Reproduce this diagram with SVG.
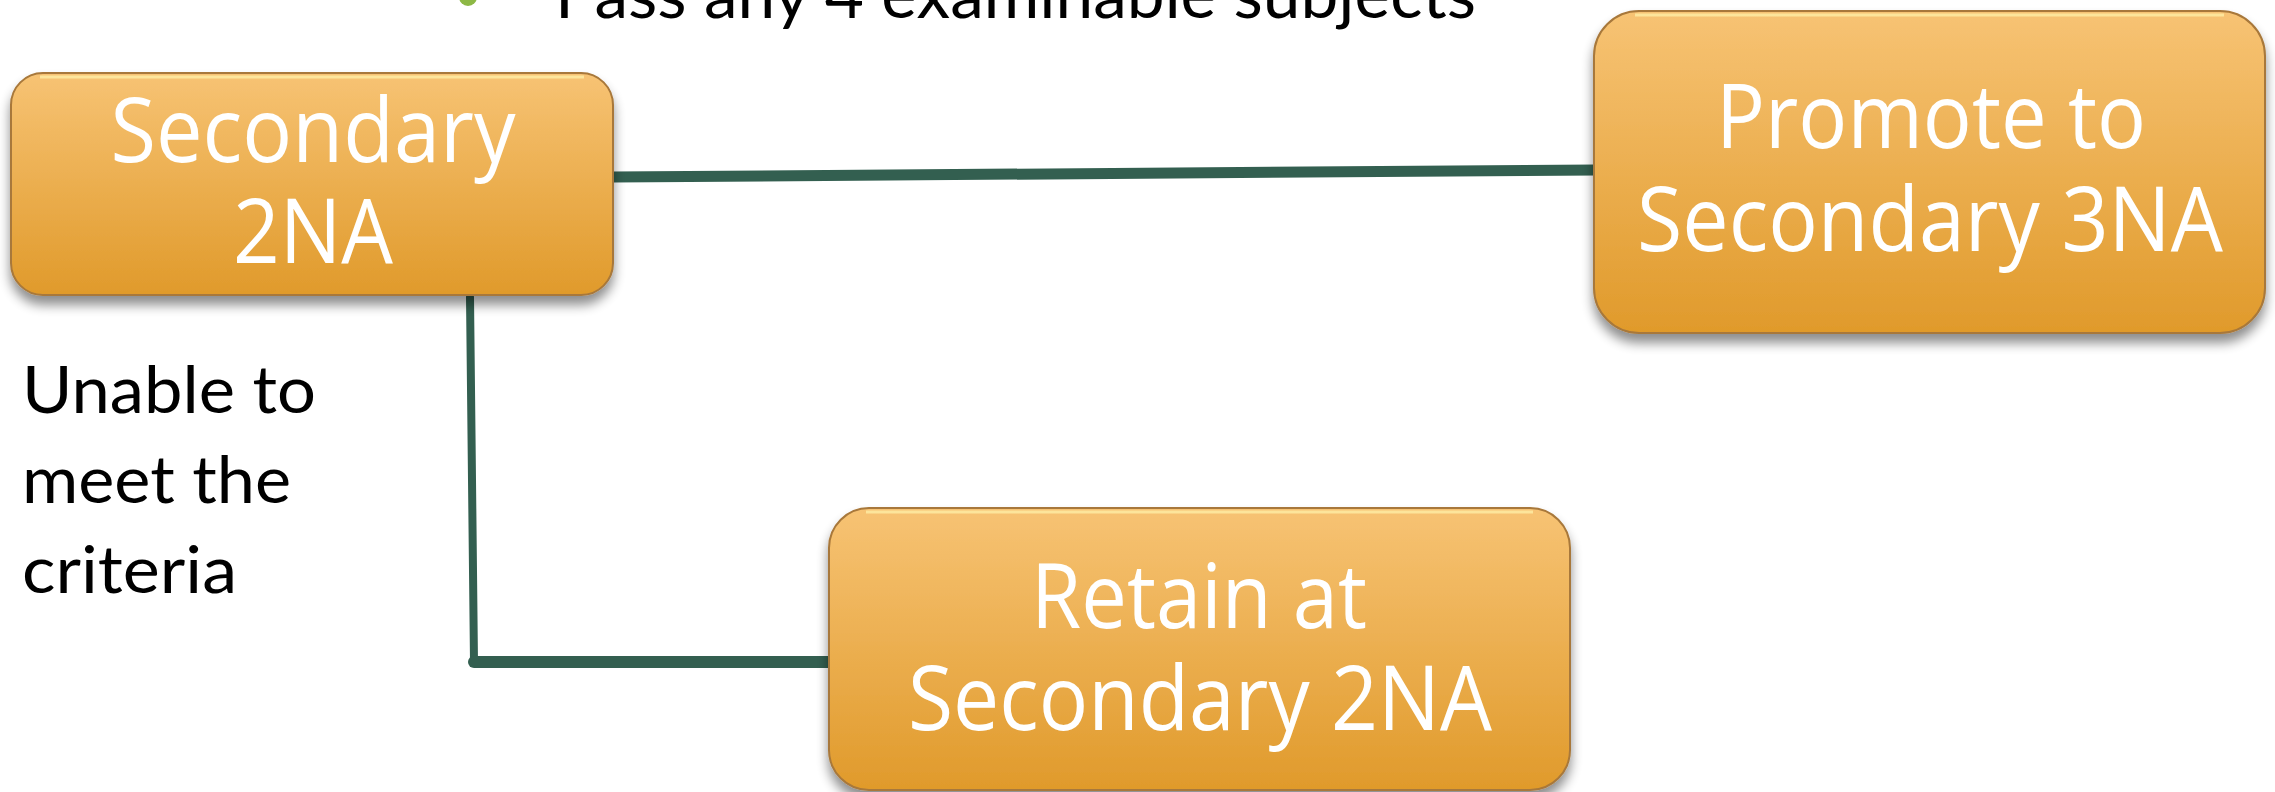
<svg xmlns="http://www.w3.org/2000/svg" width="2275" height="792" viewBox="0 0 2275 792">
<style>
.box{fill:url(#orange);stroke:#a8783a;stroke-width:2;filter:url(#shadow)}
.hl{fill:none;stroke:#fde9a0;stroke-width:3;opacity:0.9}
.bt{font-family:"Open Sans","Noto Sans","Liberation Sans",sans-serif;font-size:90px;font-weight:500;fill:#ffffff;text-anchor:middle}
.lt{font-family:Lato,"Liberation Sans",sans-serif;font-size:66px;fill:#000000}
.con{fill:none;stroke:#335f50;stroke-linecap:round;stroke-linejoin:round}
</style>
<defs>
<linearGradient id="orange" x1="0" y1="0" x2="0" y2="1">
<stop offset="0" stop-color="#f7c374"/>
<stop offset="1" stop-color="#e09a2b"/>
</linearGradient>
<filter id="shadow" x="-10%" y="-10%" width="120%" height="130%">
<feGaussianBlur in="SourceAlpha" stdDeviation="6"/>
<feOffset dx="0" dy="9" result="b"/>
<feComponentTransfer><feFuncA type="linear" slope="0.45"/></feComponentTransfer>
<feMerge><feMergeNode/><feMergeNode in="SourceGraphic"/></feMerge>
</filter>
</defs>
<rect width="2275" height="792" fill="#ffffff"/>
<g id="title">
<circle cx="468" cy="-3" r="9" fill="#8db845"/>
<text class="lt" x="555" y="18" textLength="921" lengthAdjust="spacingAndGlyphs">Pass any 4 examinable subjects</text>
</g>
<g id="connectors">
<path class="con" stroke-width="11" d="M613 177 L1596 170"/>
<path class="con" stroke-width="8" d="M470 297 L474 662"/>
<path class="con" stroke-width="12" d="M474 662 L829 662"/>
</g>
<g id="node-secondary-2na">
<rect class="box" x="11" y="73" width="602" height="222" rx="32"/>
<path class="hl" d="M40 77 L584 77"/>
<text class="bt" x="313" y="162" textLength="405" lengthAdjust="spacingAndGlyphs">Secondary</text>
<text class="bt" x="313" y="263" textLength="160" lengthAdjust="spacingAndGlyphs">2NA</text>
</g>
<g id="node-promote">
<rect class="box" x="1594" y="11" width="671" height="322" rx="45"/>
<path class="hl" d="M1635 15 L2224 15"/>
<text class="bt" x="1931" y="148" textLength="430" lengthAdjust="spacingAndGlyphs">Promote to</text>
<text class="bt" x="1930" y="251" textLength="586" lengthAdjust="spacingAndGlyphs">Secondary 3NA</text>
</g>
<g id="node-retain">
<rect class="box" x="829" y="508" width="741" height="282" rx="40"/>
<path class="hl" d="M866 512 L1533 512"/>
<text class="bt" x="1199" y="628" textLength="336" lengthAdjust="spacingAndGlyphs">Retain at</text>
<text class="bt" x="1200" y="730" textLength="584" lengthAdjust="spacingAndGlyphs">Secondary 2NA</text>
</g>
<g id="label-unable">
<text class="lt" x="22" y="413" textLength="294" lengthAdjust="spacingAndGlyphs">Unable to</text>
<text class="lt" x="22" y="503" textLength="269" lengthAdjust="spacingAndGlyphs">meet the</text>
<text class="lt" x="22" y="593" textLength="215" lengthAdjust="spacingAndGlyphs">criteria</text>
</g>
</svg>
